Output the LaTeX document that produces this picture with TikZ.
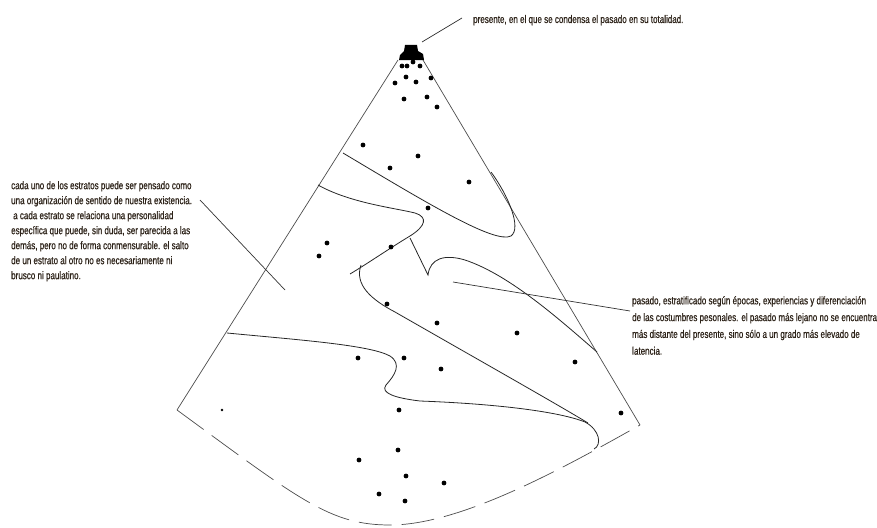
\documentclass[tikz,border=0pt]{standalone}
\usepackage{fontspec}
\usepackage{xcolor}
\newfontfamily\notafont[FakeStretch=0.73, FakeBold=0.6]{Liberation Sans}
\definecolor{notacolor}{RGB}{45,35,25}

\begin{document}
\begin{tikzpicture}[x=1pt, y=-1pt,
        nota/.style={inner sep=0pt, align=left, text=notacolor, font=\notafont\fontsize{11}{15}\selectfont},
        borde/.style={draw=black!70, line width=0.7pt},
        strato/.style={draw=black!85, line width=0.8pt},
        guia/.style={draw=black!80, line width=0.7pt}]

    \useasboundingbox (0,0) rectangle (877,527);

    % cono del pasado
    \coordinate (apiceL) at (398,60);
    \coordinate (apiceR) at (423,60);
    \coordinate (esqL) at (177,410);
    \coordinate (esqR) at (640,425);
    \draw[borde] (apiceL) -- (esqL);
    \draw[borde] (apiceR) -- (esqR);
    \draw[borde, dash pattern=on 33pt off 10pt] (esqL) .. controls (300,500) and (330,525) .. (390,525) .. controls (460,525) and (560,470) .. (esqR);

    % presente
    \fill (405,45) -- (417,45) -- (418,51) -- (423,54) -- (424,60) -- (399,60) -- (400,55) -- (404,51) -- cycle;

    % estratos
    \draw[strato] (343,153) .. controls (430,205) and (495,244) .. (511,236) .. controls (522,228) and (508,195) .. (491,172);
    \draw[strato] (318,185) .. controls (350,203) and (395,208) .. (415,213) .. controls (428,217) and (426,226) .. (410,236) .. controls (390,248) and (370,262) .. (350,274);
    \draw[strato] (361,265) .. controls (354,285) and (372,300) .. (395,312) .. controls (470,355) and (555,403) .. (588,423);
    \draw[strato] (410,238) -- (428,275) .. controls (430,258) and (445,254) .. (465,260) .. controls (510,275) and (560,320) .. (597,352);
    \draw[strato] (227,333) .. controls (300,340) and (370,345) .. (390,356) .. controls (402,364) and (395,375) .. (386,385) .. controls (380,393) and (395,398) .. (420,401) .. controls (500,404) and (560,412) .. (585,422) .. controls (600,430) and (602,445) .. (594,449);

    % recuerdos
    \foreach \p in {(402,66), (407,66), (413,62), (420,66), (406,77), (395,83), (416,82), (431,78),
            (404,99), (427,97), (437,107), (363,145), (418,156), (390,168), (469,182), (428,208),
            (327,243), (319,256), (391,247), (387,304), (437,323), (517,333), (575,362), (358,358),
            (404,358), (441,369), (399,410), (621,413), (398,450), (359,460), (406,476), (444,483),
            (379,494), (405,501)}
        \fill \p circle (2.4);
    \fill (222,410) circle (1.3);

    % notas
    \node (presente) [nota, anchor=base west] at (473,23) {presente, en el que se condensa el pasado en su totalidad.};
    \node (estratos) [nota, anchor=north west] at (11,181) {cada uno de los estratos puede ser pensado como\\
        una organización de sentido de nuestra existencia.\\
        \hspace*{2pt}a cada estrato se relaciona una personalidad\\
        específica que puede, sin duda, ser parecida a las\\
        demás, pero no de forma conmensurable. el salto\\
        de un estrato al otro no es necesariamente ni\\
        brusco ni paulatino.};
    \node (pasado) [nota, anchor=north west, font=\notafont\fontsize{11}{16.8}\selectfont] at (632,296) {pasado, estratificado según épocas, experiencias y diferenciación\\
        de las costumbres pesonales. el pasado más lejano no se encuentra\\
        más distante del presente, sino sólo a un grado más elevado de\\
        latencia.};

    \coordinate (presenteTip) at (422,42);
    \coordinate (presenteEnd) at (462,18);
    \coordinate (estratosEnd) at (200,200);
    \coordinate (estratosTip) at (285,290);
    \coordinate (pasadoTip) at (453,282);
    \coordinate (pasadoEnd) at (630,311);
    \draw[guia] (presenteTip) -- (presenteEnd);
    \draw[guia] (estratosEnd) -- (estratosTip);
    \draw[guia] (pasadoTip) -- (pasadoEnd);
\end{tikzpicture}
\end{document}
